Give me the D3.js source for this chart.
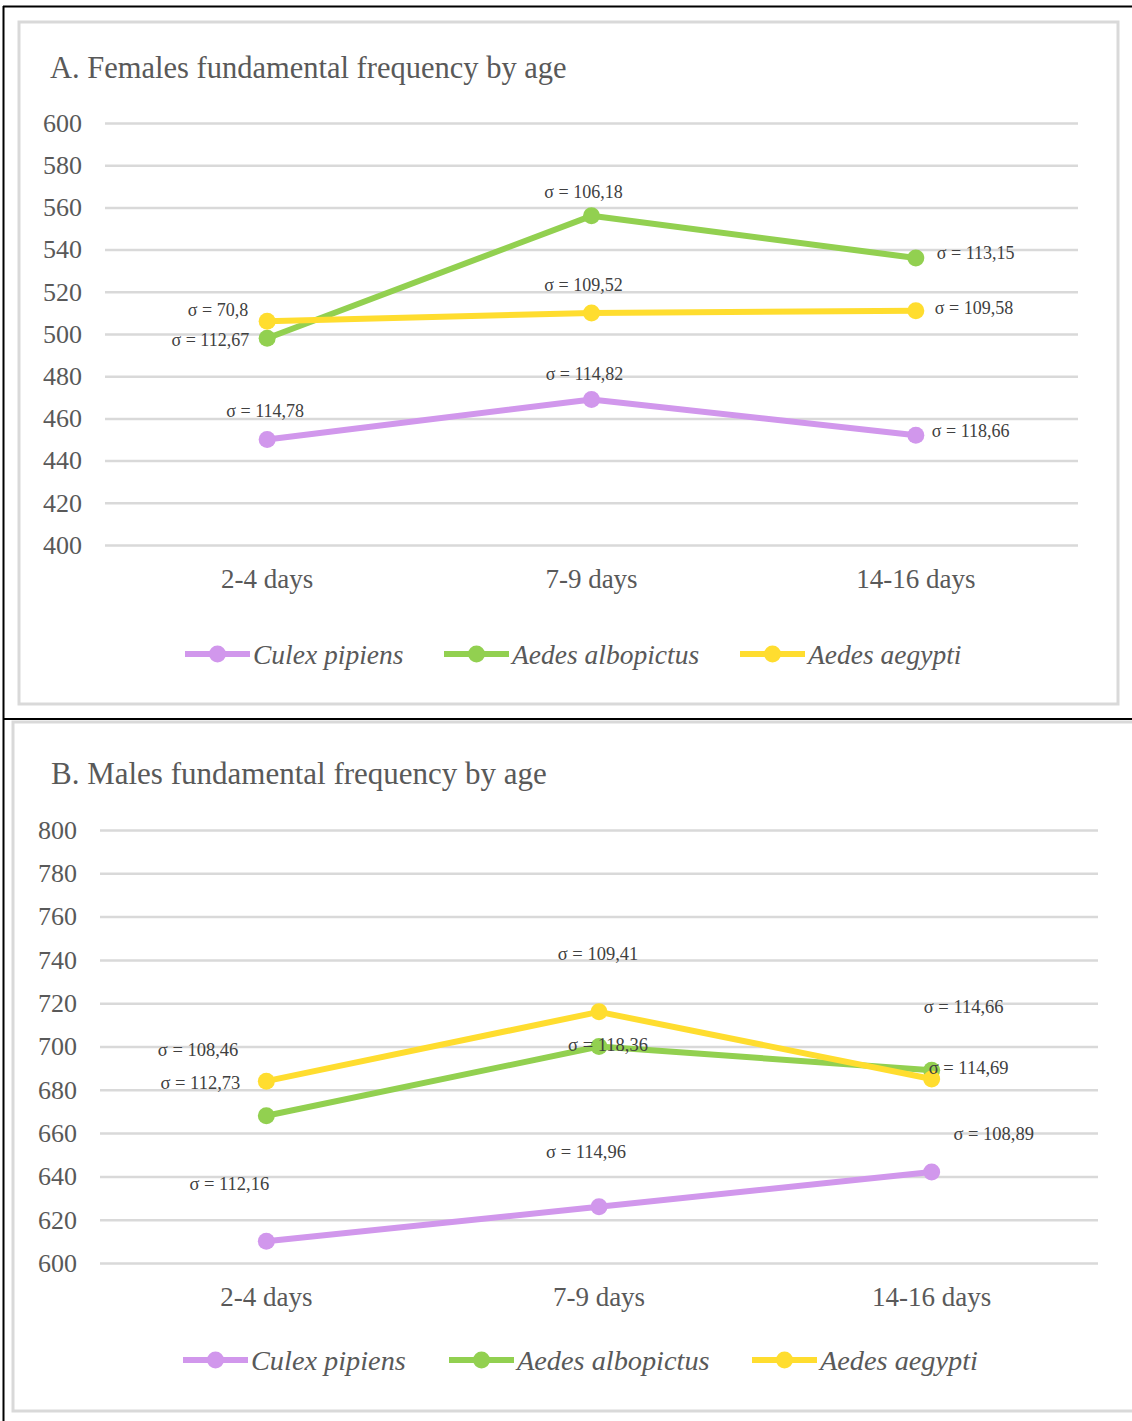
<!DOCTYPE html>
<html>
<head>
<meta charset="utf-8">
<script src="https://cdn.jsdelivr.net/npm/d3@7"></script>
<style>
  html, body { margin: 0; padding: 0; background: #ffffff; }
  svg { display: block; }
</style>
</head>
<body>
<script>
// ---- data ----
const ageGroups = ["2-4 days", "7-9 days", "14-16 days"];
const speciesNames = ["Culex pipiens", "Aedes albopictus", "Aedes aegypti"];

// Females: mean fundamental frequency (Hz) and standard deviation
const femalesCulex = [450, 469, 452];
const femalesAlbopictus = [498, 556, 536];
const femalesAegypti = [506, 510, 511];
const femalesCulexSigma = ["114,78", "114,82", "118,66"];
const femalesAlbopictusSigma = ["112,67", "106,18", "113,15"];
const femalesAegyptiSigma = ["70,8", "109,52", "109,58"];
const femalesTicks = [400, 420, 440, 460, 480, 500, 520, 540, 560, 580, 600];

// Males: mean fundamental frequency (Hz) and standard deviation
const malesCulex = [610, 626, 642];
const malesAlbopictus = [668, 700, 689];
const malesAegypti = [684, 716, 685];
const malesCulexSigma = ["112,16", "114,96", "108,89"];
const malesAlbopictusSigma = ["112,73", "118,36", "114,69"];
const malesAegyptiSigma = ["108,46", "109,41", "114,66"];
const malesTicks = [600, 620, 640, 660, 680, 700, 720, 740, 760, 780, 800];

// ---- styling ----
const colors = ["#D197EC", "#92D050", "#FFDD2F"];
const serif = "'Liberation Serif', 'Times New Roman', serif";
const gridColor = "#d9d9d9";
const textColor = "#595959";
const noteColor = "#404040";

const W = 1132, H = 1421;
const svg = d3.select("body").append("svg").attr("width", W).attr("height", H);

// frames around the two panels
svg.append("rect").attr("x", 19).attr("y", 22).attr("width", 1099).attr("height", 682)
  .attr("fill", "none").attr("stroke", gridColor).attr("stroke-width", 3);
svg.append("rect").attr("x", 13).attr("y", 722).attr("width", 1140).attr("height", 689)
  .attr("fill", "none").attr("stroke", gridColor).attr("stroke-width", 3);
svg.append("line").attr("x1", 3).attr("x2", W).attr("y1", 6.5).attr("y2", 6.5)
  .attr("stroke", "#000").attr("stroke-width", 2);
svg.append("line").attr("x1", 3).attr("x2", W).attr("y1", 719).attr("y2", 719)
  .attr("stroke", "#000").attr("stroke-width", 2);
svg.append("line").attr("x1", 3.5).attr("x2", 3.5).attr("y1", 6).attr("y2", H)
  .attr("stroke", "#000").attr("stroke-width", 2);

function drawPanel(cfg) {
  const g = svg.append("g");
  const x = d3.scaleBand().domain(ageGroups).range([cfg.left, cfg.right]);
  const y = d3.scaleLinear().domain(d3.extent(cfg.ticks)).range([cfg.bottom, cfg.top]);
  const cx = d => x(d) + x.bandwidth() / 2;

  // title
  g.append("text").attr("x", cfg.titleX).attr("y", cfg.titleY)
    .attr("font-family", serif).attr("font-size", cfg.titleSize).attr("fill", textColor)
    .text(cfg.title);

  // y axis: gridlines and tick labels
  const yAxis = d3.axisLeft(y).tickValues(cfg.ticks)
    .tickSize(-(cfg.right - cfg.left)).tickPadding(cfg.left - cfg.labelRight);
  const ya = g.append("g").attr("transform", `translate(${cfg.left},0)`).call(yAxis);
  ya.select(".domain").remove();
  ya.selectAll(".tick line").attr("stroke", gridColor).attr("stroke-width", 2.5);
  ya.selectAll(".tick text").attr("font-family", serif).attr("font-size", 26)
    .attr("fill", textColor);

  // x axis labels
  const xAxis = d3.axisBottom(x).tickSize(0).tickPadding(cfg.xLabelGap);
  const xa = g.append("g").attr("transform", `translate(0,${cfg.bottom})`).call(xAxis);
  xa.select(".domain").remove();
  xa.selectAll(".tick text").attr("font-family", serif).attr("font-size", 27)
    .attr("fill", textColor);

  // series lines and markers
  const line = d3.line().x((d, i) => cx(ageGroups[i])).y(d => y(d));
  cfg.series.forEach((s, k) => {
    g.append("path").datum(s.values).attr("d", line)
      .attr("fill", "none").attr("stroke", colors[k]).attr("stroke-width", 6)
      .attr("stroke-linejoin", "round");
    g.selectAll(null).data(s.values).enter().append("circle")
      .attr("cx", (d, i) => cx(ageGroups[i])).attr("cy", d => y(d))
      .attr("r", 8.5).attr("fill", colors[k]);
  });

  // standard deviation notes
  cfg.series.forEach((s, k) => {
    s.sigma.forEach((sd, i) => {
      const p = cfg.notePlacement[k][i];
      g.append("text")
        .attr("x", cx(ageGroups[i]) + p[0])
        .attr("y", y(s.values[i]) + p[1])
        .attr("text-anchor", p[2])
        .attr("dominant-baseline", "central")
        .attr("font-family", serif).attr("font-size", cfg.noteSize).attr("fill", noteColor)
        .text("σ = " + sd);
    });
  });

  // legend
  cfg.legendX.forEach((lx, k) => {
    const lg = g.append("g").attr("transform", `translate(${lx},${cfg.legendY})`);
    lg.append("line").attr("x1", 0).attr("x2", 65).attr("y1", 0).attr("y2", 0)
      .attr("stroke", colors[k]).attr("stroke-width", 6);
    lg.append("circle").attr("cx", 32.5).attr("cy", 0).attr("r", 8.5).attr("fill", colors[k]);
    lg.append("text").attr("x", 68).attr("y", 0).attr("dominant-baseline", "central")
      .attr("font-family", serif).attr("font-style", "italic").attr("font-size", cfg.legendSize)
      .attr("fill", textColor).text(speciesNames[k]);
  });
}

drawPanel({
  title: "A. Females fundamental frequency by age",
  titleX: 50, titleY: 78, titleSize: 30.5,
  left: 105, right: 1078, top: 123, bottom: 545, labelRight: 82,
  xLabelGap: 24,
  ticks: femalesTicks,
  series: [
    { values: femalesCulex, sigma: femalesCulexSigma },
    { values: femalesAlbopictus, sigma: femalesAlbopictusSigma },
    { values: femalesAegypti, sigma: femalesAegyptiSigma }
  ],
  noteSize: 18,
  notePlacement: [
    [[-2, -29, "middle"], [-7, -25, "middle"], [16, -4, "start"]],
    [[-18, 2, "end"], [-8, -24, "middle"], [21, -5, "start"]],
    [[-19, -11, "end"], [-8, -28, "middle"], [19, -3, "start"]]
  ],
  legendX: [185, 444, 740], legendY: 654, legendSize: 27.5
});

drawPanel({
  title: "B. Males fundamental frequency by age",
  titleX: 51, titleY: 784, titleSize: 31,
  left: 100, right: 1098, top: 830, bottom: 1263, labelRight: 77,
  xLabelGap: 24,
  ticks: malesTicks,
  series: [
    { values: malesCulex, sigma: malesCulexSigma },
    { values: malesAlbopictus, sigma: malesAlbopictusSigma },
    { values: malesAegypti, sigma: malesAegyptiSigma }
  ],
  noteSize: 18.5,
  notePlacement: [
    [[-37, -57, "middle"], [-13, -55, "middle"], [62, -38, "middle"]],
    [[-26, -33, "end"], [9, -2, "middle"], [-3, -2, "start"]],
    [[-28, -31, "end"], [-1, -58, "middle"], [32, -72, "middle"]]
  ],
  legendX: [183, 449, 752], legendY: 1360, legendSize: 28.3
});
</script>
</body>
</html>
